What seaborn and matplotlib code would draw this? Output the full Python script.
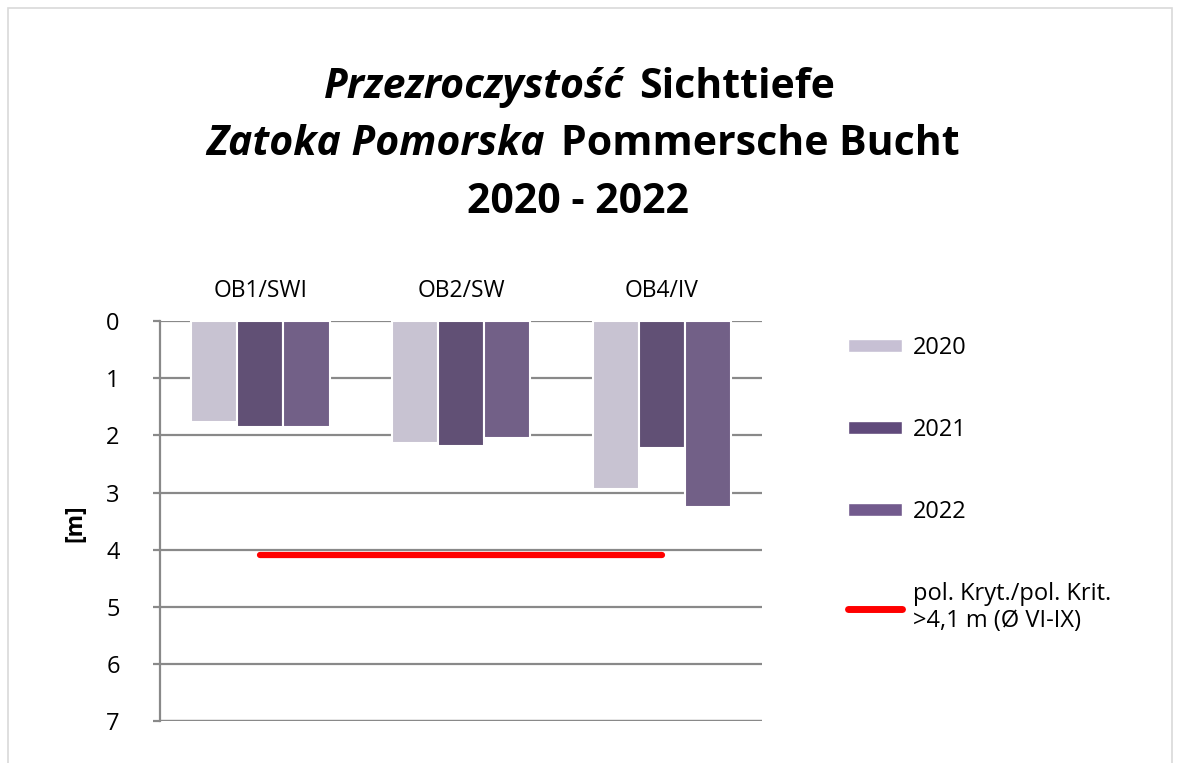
import pandas as pd
import matplotlib.pyplot as plt
import seaborn as sns
from matplotlib.patches import Patch, Rectangle
from matplotlib.lines import Line2D

# dane
stations = ['OB1/SWI', 'OB2/SW', 'OB4/IV']
years = ['2020', '2021', '2022']
depth_2020 = [1.77, 2.14, 2.94]
depth_2021 = [1.86, 2.19, 2.22]
depth_2022 = [1.86, 2.05, 3.26]
crit_depth = [4.1, 4.1, 4.1]
crit_label = 'pol. Kryt./pol. Krit.\n>4,1 m (Ø VI-IX)'
yticks = [0, 1, 2, 3, 4, 5, 6, 7]

colors = ['#C7C0D4', '#604A7B', '#725A8D']

df = pd.DataFrame({
    'station': stations * 3,
    'year': [y for y in years for _ in stations],
    'depth': depth_2020 + depth_2021 + depth_2022,
})

sns.set_theme(style='white')
plt.rcParams['font.family'] = ['Open Sans', 'DejaVu Sans']
plt.rcParams['text.color'] = 'black'

fig = plt.figure(figsize=(11.81, 7.63), dpi=100)
ax = fig.add_axes([0.1355, 0.055, 0.51, 0.524])

sns.barplot(data=df, x='station', y='depth', hue='year', palette=colors,
            width=0.69, edgecolor='white', linewidth=1.5, ax=ax, legend=False,
            zorder=3)
ax.plot(stations, crit_depth, color='#FF0000', lw=4.5, solid_capstyle='round', zorder=4)

ax.set_ylim(7, 0)
ax.set_xlim(-0.5, 2.5)
ax.set_yticks(yticks)
ax.yaxis.grid(True, color='#898989', lw=1.6, zorder=0)
ax.set_axisbelow(True)
for s in ['top', 'right', 'bottom']:
    ax.spines[s].set_visible(False)
ax.spines['left'].set_color('#898989')
ax.spines['left'].set_linewidth(1.6)
ax.axhline(7, color='#898989', lw=1.6, zorder=1)

ax.xaxis.tick_top()
ax.tick_params(axis='x', length=0, pad=13, labelsize=16.5, colors='black')
ax.tick_params(axis='y', left=True, length=5, width=1.6, color='#898989',
               pad=24, labelsize=17, labelcolor='black')
ax.set_xlabel('')
ax.set_ylabel('')

fig.text(75 / 1181, 1 - 523 / 763, '[m]', rotation=90, ha='center', va='center',
         fontsize=16.5, fontweight='bold')

# tytuł
ts = 29.5
fig.text(624 / 1181, 0.885, 'Przezroczystość', ha='right', va='center',
         fontsize=ts, fontweight='bold', style='italic')
fig.text(639 / 1181, 0.885, 'Sichttiefe', ha='left', va='center',
         fontsize=ts, fontweight='bold')
fig.text(545 / 1181, 0.810, 'Zatoka Pomorska', ha='right', va='center',
         fontsize=ts, fontweight='bold', style='italic')
fig.text(561 / 1181, 0.810, 'Pommersche Bucht', ha='left', va='center',
         fontsize=ts, fontweight='bold')
fig.text(578 / 1181, 0.735, '2020 - 2022', ha='center', va='center',
         fontsize=ts, fontweight='bold')

# legenda
handles = [Patch(facecolor=c, edgecolor='white') for c in colors]
handles.append(Line2D([0], [0], color='#FF0000', lw=5, solid_capstyle='round'))
fig.legend(handles, years + [crit_label], loc='upper left',
           bbox_to_anchor=(848 / 1181, 1 - 336 / 763), frameon=False,
           fontsize=17, labelspacing=2.45, handlelength=2.3, handleheight=0.5,
           handletextpad=0.45, borderpad=0, borderaxespad=0)

fig.patches.append(Rectangle((8 / 1181, -0.02), 1164 / 1181, 1.02 - 8 / 763,
                             transform=fig.transFigure, fill=False,
                             edgecolor='#D9D9D9', lw=1.2))

plt.savefig('out.png', dpi=100)
plt.close()
